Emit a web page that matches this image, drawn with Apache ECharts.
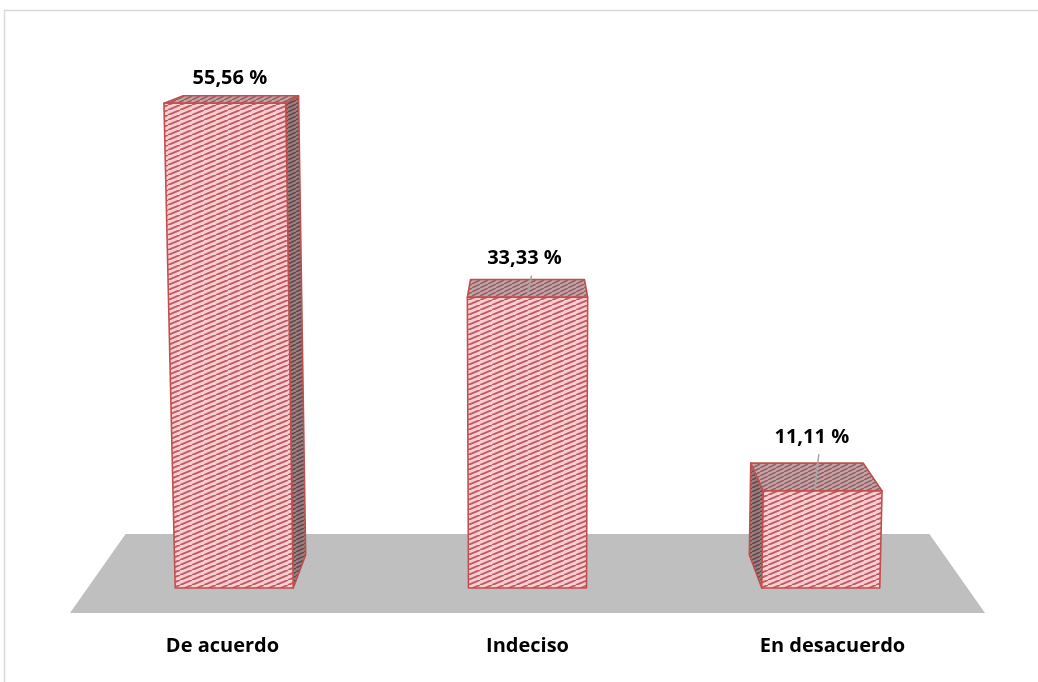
<!DOCTYPE html>
<html><head><meta charset="utf-8">
<script src="https://cdn.jsdelivr.net/npm/echarts@6/dist/echarts.min.js"></script>
<style>html,body{margin:0;padding:0;background:#fff}#c{width:1038px;height:682px}</style>
</head><body><div id="c"></div>
<script>
// ---- data ----
const categories = ['De acuerdo', 'Indeciso', 'En desacuerdo'];
const values = [55.56, 33.33, 11.11];
const valueLabels = ['55,56 %', '33,33 %', '11,11 %'];
const yRange = [0, 60.4];

// ---- style constants (pixels / ratios) ----
const VP_ABOVE = 625;      // vanishing point height above baseline
const FLOOR_FRONT = 25;    // floor front edge below baseline
const FLOOR_DEPTH = 79;    // floor depth in px (front to back)
const DEPTH = 0.053;       // bar depth as fraction toward vanishing point
const SPREAD = 6.6e-5;     // vertical-line divergence
const BAR_RATIO = 0.387;
const LABEL_GAP = [18, 21, 26];
const LEADER = [false, true, true];
const FONT = '"Open Sans", "Liberation Sans", sans-serif';

function makePattern(bg, fg, w, h, lw) {
  const c = document.createElement('canvas');
  c.width = w; c.height = h;
  const g = c.getContext('2d');
  g.fillStyle = bg; g.fillRect(0, 0, w, h);
  g.strokeStyle = fg; g.lineWidth = lw;
  for (let k = -1; k <= 1; k++) {
    g.beginPath();
    g.moveTo(k * w, h);
    g.lineTo(k * w + w, 0);
    g.stroke();
  }
  return { image: c, repeat: 'repeat' };
}
const frontFill = makePattern('#f6d0d2', '#c65a64', 12, 5, 2);
const topFill = makePattern('#c9a4a6', '#8c6468', 8, 4, 1.6);
const sideFill = makePattern('#9c8082', '#64494c', 8, 4, 1.6);
const EDGE = '#c0504d';

const chart = echarts.init(document.getElementById('c'), null, { renderer: 'canvas' });

function vpOf(params, zeroY) {
  const cs = params.coordSys;
  return [cs.x + cs.width / 2, zeroY - VP_ABOVE];
}

function renderFloor(params, api) {
  const cs = params.coordSys;
  const zeroY = api.coord([0, 0])[1];
  const VP = vpOf(params, zeroY);
  const fy = zeroY + FLOOR_FRONT;
  const t = FLOOR_DEPTH / (fy - VP[1]);
  const fl = [cs.x, fy], fr = [cs.x + cs.width, fy];
  const tw = p => [p[0] + t * (VP[0] - p[0]), p[1] + t * (VP[1] - p[1])];
  return {
    type: 'polygon',
    shape: { points: [fl, fr, tw(fr), tw(fl)] },
    style: { fill: '#bfbfbf' }
  };
}

function renderBar(params, api) {
  const i = api.value(0), v = api.value(1);
  const base = api.coord([i, 0]);
  const topP = api.coord([i, v]);
  const zeroY = base[1];
  const VP = vpOf(params, zeroY);
  const d0 = FLOOR_FRONT / (FLOOR_FRONT + VP_ABOVE);
  const xc = base[0] + d0 * (VP[0] - base[0]);
  const halfW = api.size([1, 0])[0] * BAR_RATIO / 2;
  const bl = [xc - halfW, zeroY], br = [xc + halfW, zeroY];
  const yT = topP[1];
  const s = 1 + SPREAD * (zeroY - yT);
  const tl = [VP[0] + (bl[0] - VP[0]) * s, yT];
  const tr = [VP[0] + (br[0] - VP[0]) * s, yT];
  const back = p => [p[0] + DEPTH * (VP[0] - p[0]), p[1] + DEPTH * (VP[1] - p[1])];
  const btl = back(tl), btr = back(tr), bbl = back(bl), bbr = back(br);
  const edge = { stroke: EDGE, lineWidth: 1.6, lineJoin: 'round' };
  const children = [];
  if (bbl[0] < bl[0] - 0.5) {
    children.push({ type: 'polygon', shape: { points: [bl, tl, btl, bbl] },
      style: Object.assign({ fill: sideFill }, edge) });
  }
  if (bbr[0] > br[0] + 0.5) {
    children.push({ type: 'polygon', shape: { points: [br, tr, btr, bbr] },
      style: Object.assign({ fill: sideFill }, edge) });
  }
  children.push({ type: 'polygon', shape: { points: [tl, tr, btr, btl] },
    style: Object.assign({ fill: topFill }, edge) });
  children.push({ type: 'polygon', shape: { points: [bl, br, tr, tl] },
    style: Object.assign({ fill: frontFill }, edge) });
  const topCx = (tl[0] + tr[0] + btl[0] + btr[0]) / 4;
  const gap = LABEL_GAP[params.dataIndex];
  const ly = btl[1] - gap;
  if (LEADER[params.dataIndex]) {
    children.push({ type: 'line',
      shape: { x1: topCx + 4, y1: ly + 17, x2: topCx, y2: yT - 2 },
      style: { stroke: '#a6a6a6', lineWidth: 1.5 } });
  }
  children.push({ type: 'text',
    style: { text: valueLabels[params.dataIndex], x: topCx - 3, y: ly,
      align: 'center', verticalAlign: 'middle',
      fontSize: 20, fontWeight: 'bold', fontFamily: FONT, fill: '#000' } });
  return { type: 'group', children };
}

chart.setOption({
  animation: false,
  backgroundColor: '#fff',
  graphic: [{
    type: 'rect', left: 2, top: 8, z: -10,
    shape: { x: 0, y: 0, width: 1100, height: 800 },
    style: { fill: 'none', stroke: '#d9d9d9', lineWidth: 1.5 }
  }],
  grid: { left: 70, right: 53, top: 61, bottom: 94 },
  xAxis: {
    type: 'category', data: categories,
    axisLine: { show: false }, axisTick: { show: false },
    axisLabel: { margin: 48, fontSize: 20, fontWeight: 'bold', fontFamily: FONT, color: '#000' }
  },
  yAxis: {
    type: 'value', min: yRange[0], max: yRange[1], show: false, splitLine: { show: false }
  },
  series: [
    { type: 'custom', renderItem: renderFloor, data: [[0, 0]], z: 1, silent: true },
    { type: 'custom', renderItem: renderBar, z: 2,
      data: values.map((v, i) => [i, v]) }
  ]
});
</script></body></html>
